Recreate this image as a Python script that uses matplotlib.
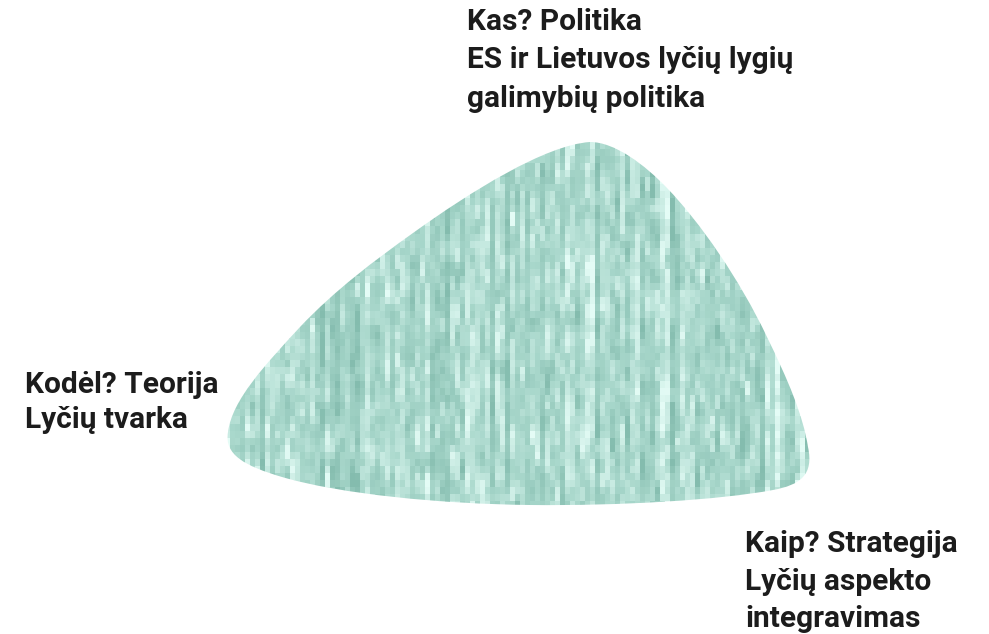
import numpy as np
import matplotlib.pyplot as plt
from matplotlib.path import Path
from matplotlib.patches import PathPatch

# labels at the three corners
top_lines = ["Kas? Politika", "ES ir Lietuvos lyčių lygių", "galimybių politika"]
left_lines = ["Kodėl? Teorija", "Lyčių tvarka"]
right_lines = ["Kaip? Strategija", "Lyčių aspekto", "integravimas"]

# rounded triangle outline (pixel coords, y down)
verts = [
    (590, 142),
    (615, 142), (645, 165), (667, 188),
    (700, 222), (740, 280), (767, 337),
    (788, 380), (803, 415), (808, 447),
    (814, 475), (800, 485), (773, 490),
    (720, 500), (620, 506), (530, 505),
    (440, 504), (340, 494), (282, 477),
    (245, 466), (224, 455), (228, 432),
    (232, 400), (265, 365), (300, 327),
    (335, 290), (375, 260), (413, 233),
    (470, 192), (545, 145), (590, 142),
]
codes = [Path.MOVETO] + [Path.CURVE4] * (len(verts) - 1)
shape = Path(verts, codes)

W, H = 989, 634
fig = plt.figure(figsize=(W / 100, H / 100), dpi=100)
ax = fig.add_axes([0, 0, 1, 1])
ax.set_xlim(0, W)
ax.set_ylim(H, 0)
ax.axis("off")

# streaky green texture (decorative only)
rng = np.random.default_rng(11)
ncol, nrow = 122, 54
col_shift = rng.normal(0, 1, ncol)
noise = rng.normal(0, 1, (nrow, ncol))
k = np.array([1, 2, 1], float)
k /= k.sum()
noise = np.apply_along_axis(lambda c: np.convolve(c, k, mode="same"), 0, noise)
t = 0.6 * col_shift[None, :] + 1.0 * noise
t = np.clip(t, -2.0, 2.0)
base = np.array([168, 215, 203]) / 255
light = np.array([228, 252, 246]) / 255
dark = np.array([132, 188, 174]) / 255
img = np.where(t[..., None] > 0,
               base + (light - base) * (t[..., None] / 2.0),
               base + (base - dark) * (t[..., None] / 2.0))
im = ax.imshow(img, extent=(215, 825, 515, 135), interpolation="nearest",
               aspect="auto", zorder=1)
patch = PathPatch(shape, facecolor="none", edgecolor="none", transform=ax.transData)
ax.add_patch(patch)
im.set_clip_path(patch)

kw = dict(fontsize=21.5, fontweight="bold", color="#1c1c1c",
          family=["Roboto", "DejaVu Sans"], va="baseline", ha="left")
for i, s in enumerate(top_lines):
    ax.text(467, 30 + 38.5 * i, s, **kw)
for i, s in enumerate(left_lines):
    ax.text(25, 393 + 35 * i, s, **kw)
for i, s in enumerate(right_lines):
    ax.text(745, 552 + 37.5 * i, s, **kw)

fig.savefig("out.png", dpi=100)
